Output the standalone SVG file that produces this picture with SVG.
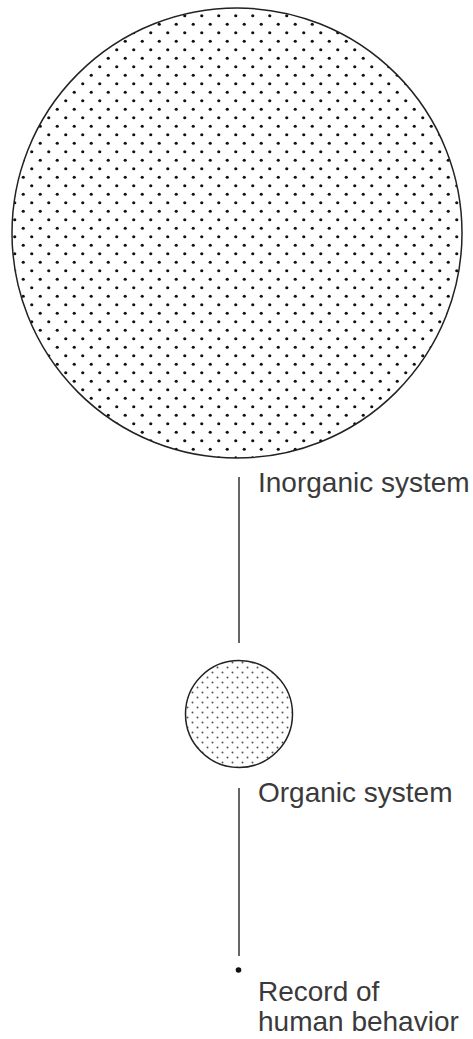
<svg xmlns="http://www.w3.org/2000/svg" width="473" height="1039" viewBox="0 0 473 1039">
<style>
.lbl{font-family:"Liberation Sans",Arial,sans-serif;font-size:28px;fill:#3a3a3a}
.ln{stroke:#333;stroke-width:1.5;fill:none}
</style>
<defs>
<pattern id="bigDots" patternUnits="userSpaceOnUse" x="2" y="3" width="17" height="17">
<circle cx="4.25" cy="4.25" r="1.6" fill="#111"/>
<circle cx="12.75" cy="12.75" r="1.6" fill="#111"/>
</pattern>
<pattern id="smallDots" patternUnits="userSpaceOnUse" width="10" height="10">
<circle cx="2.5" cy="2.5" r="1" fill="#555"/>
<circle cx="7.5" cy="7.5" r="1" fill="#555"/>
</pattern>
</defs>
<rect width="473" height="1039" fill="#fff"/>
<g id="connectors">
<line class="ln" x1="239" y1="477" x2="239" y2="643"/>
<line class="ln" x1="239" y1="788" x2="239" y2="956"/>
</g>
<g id="inorganic">
<circle cx="237" cy="233" r="225" fill="url(#bigDots)" stroke="#222" stroke-width="1.5"/>
<text class="lbl" x="258" y="492">Inorganic system</text>
</g>
<g id="organic">
<circle cx="239" cy="714" r="53.5" fill="url(#smallDots)" stroke="#222" stroke-width="1.5"/>
<text class="lbl" x="258" y="802">Organic system</text>
</g>
<g id="record">
<circle cx="238.5" cy="970" r="2.8" fill="#111"/>
<text class="lbl" x="258" y="1001">Record of</text>
<text class="lbl" x="258" y="1031">human behavior</text>
</g>
</svg>
